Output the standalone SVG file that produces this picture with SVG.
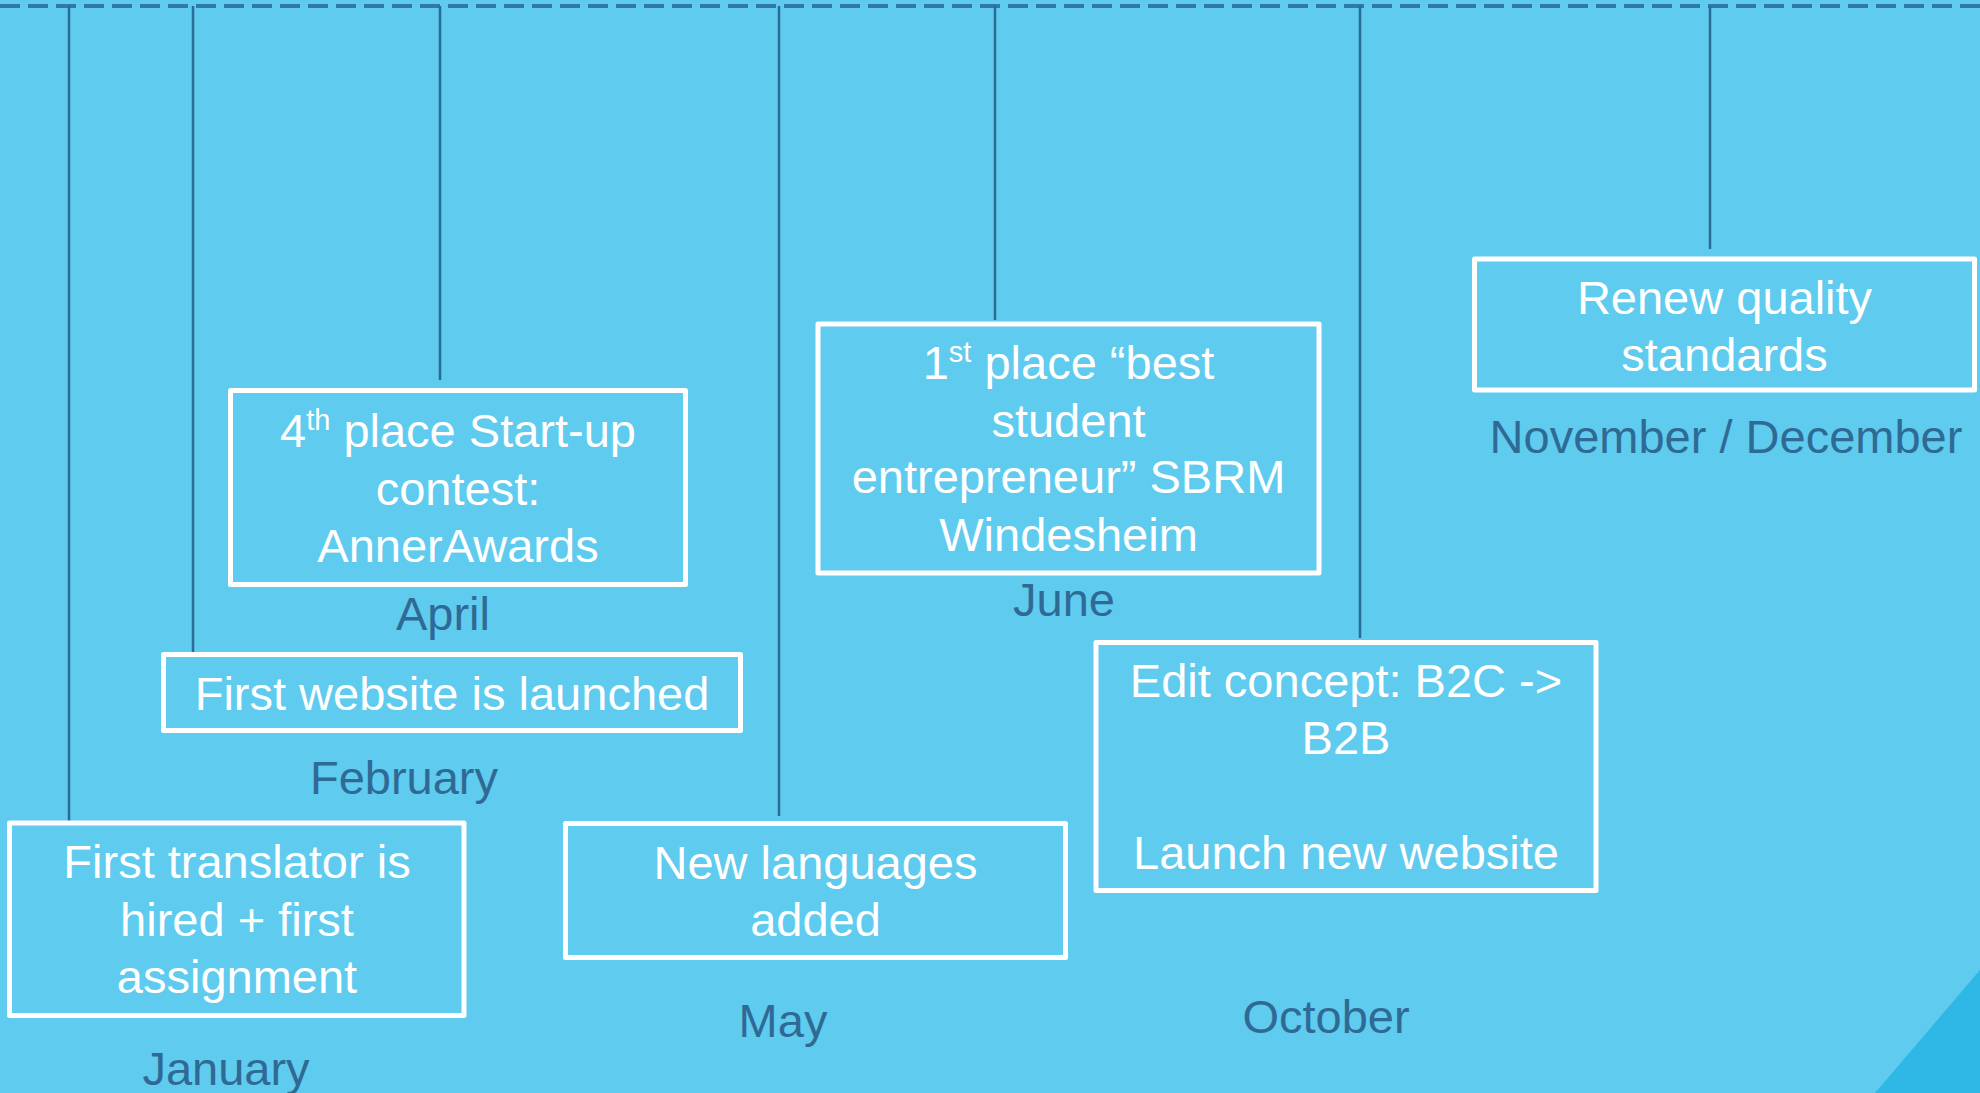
<svg xmlns="http://www.w3.org/2000/svg" width="1980" height="1093" viewBox="0 0 1980 1093">
<style>
.box{fill:none;stroke:#ffffff;stroke-width:5;stroke-linejoin:round}
.t{font-family:"Liberation Sans",Arial,sans-serif;font-size:47px;fill:#ffffff;text-anchor:middle}
.m{font-family:"Liberation Sans",Arial,sans-serif;font-size:47px;fill:#2F6A95;text-anchor:middle}
.v{stroke:#2B6C97;stroke-width:2.5;fill:none}
.dash{stroke:#2E79A8;stroke-width:4;stroke-dasharray:20 8;fill:none}
</style>
<rect x="0" y="0" width="1980" height="1093" fill="#5FCBEE"/>
<polygon points="1980,970 1980,1093 1875,1093" fill="#2FB8E6"/>
<g id="connectors">
<line class="dash" x1="0" y1="6" x2="1980" y2="6"/>
<line class="v" x1="69" y1="6" x2="69" y2="821"/>
<line class="v" x1="193" y1="6" x2="193" y2="652"/>
<line class="v" x1="440" y1="6" x2="440" y2="380"/>
<line class="v" x1="779" y1="6" x2="779" y2="816"/>
<line class="v" x1="995" y1="6" x2="995" y2="320"/>
<line class="v" x1="1360" y1="6" x2="1360" y2="638"/>
<line class="v" x1="1710" y1="6" x2="1710" y2="249"/>
</g>
<g id="january">
<rect class="box" x="9.5" y="823" width="454.5" height="192.5"/>
<text class="t" x="237" y="878">First translator is</text>
<text class="t" x="237" y="936">hired + first</text>
<text class="t" x="237" y="993">assignment</text>
<text class="m" x="226" y="1085">January</text>
</g>
<g id="february">
<rect class="box" x="163.5" y="654.5" width="577" height="76"/>
<text class="t" x="452" y="710">First website is launched</text>
<text class="m" x="404" y="794">February</text>
</g>
<g id="april">
<rect class="box" x="230.5" y="390.5" width="455" height="194"/>
<text class="t" x="458" y="447">4<tspan font-size="29" dy="-17">th</tspan><tspan dy="17"> place Start-up</tspan></text>
<text class="t" x="458" y="505">contest:</text>
<text class="t" x="458" y="562">AnnerAwards</text>
<text class="m" x="443" y="630">April</text>
</g>
<g id="may">
<rect class="box" x="565.5" y="823.5" width="500" height="134"/>
<text class="t" x="815.5" y="879">New languages</text>
<text class="t" x="815.5" y="936">added</text>
<text class="m" x="783" y="1037">May</text>
</g>
<g id="june">
<rect class="box" x="818" y="324" width="501" height="249"/>
<text class="t" x="1068.5" y="379">1<tspan font-size="29" dy="-17">st</tspan><tspan dy="17"> place “best</tspan></text>
<text class="t" x="1068.5" y="437">student</text>
<text class="t" x="1068.5" y="493">entrepreneur” SBRM</text>
<text class="t" x="1068.5" y="551">Windesheim</text>
<text class="m" x="1064" y="616">June</text>
</g>
<g id="october">
<rect class="box" x="1096" y="642.5" width="500" height="248"/>
<text class="t" x="1346" y="697">Edit concept: B2C -&gt;</text>
<text class="t" x="1346" y="754">B2B</text>
<text class="t" x="1346" y="869">Launch new website</text>
<text class="m" x="1326" y="1033">October</text>
</g>
<g id="novdec">
<rect class="box" x="1474.5" y="259" width="500" height="131"/>
<text class="t" x="1724.5" y="314">Renew quality</text>
<text class="t" x="1724.5" y="371">standards</text>
<text class="m" x="1726" y="453">November / December</text>
</g>
</svg>
